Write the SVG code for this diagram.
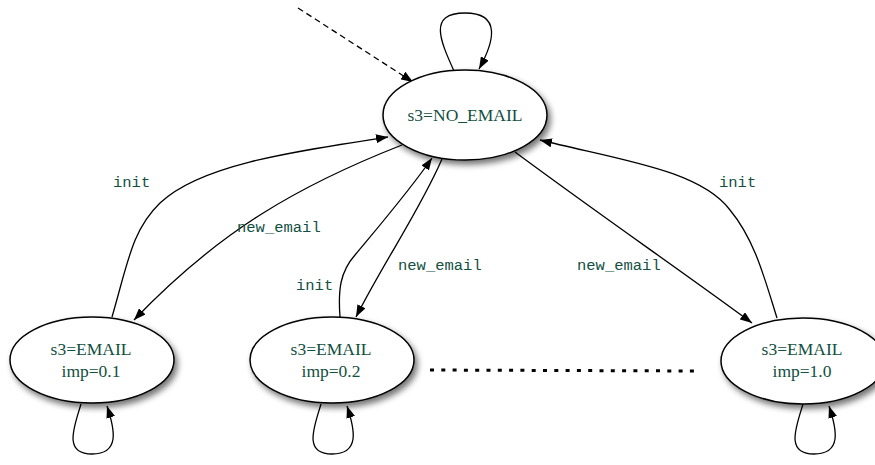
<svg xmlns="http://www.w3.org/2000/svg" width="875" height="465" viewBox="0 0 875 465">
<style>
.node ellipse{fill:#fff;stroke:#000;stroke-width:1.5;filter:url(#sh)}
.node text{font-family:"Liberation Serif","Times New Roman",serif;font-size:17.5px;fill:#12503f;text-anchor:middle}
.edge{fill:none;stroke:#000;stroke-width:1.3;marker-end:url(#ah)}
.lbl{font-family:"Liberation Mono","Courier New",monospace;font-size:15.5px;fill:#12503f}
</style>
<defs>
<filter id="sh" x="-20%" y="-20%" width="150%" height="160%">
<feGaussianBlur in="SourceAlpha" stdDeviation="3"/>
<feOffset dx="3" dy="4" result="b"/>
<feComponentTransfer><feFuncA type="linear" slope="0.55"/></feComponentTransfer>
<feMerge><feMergeNode/><feMergeNode in="SourceGraphic"/></feMerge>
</filter>
<marker id="ah" viewBox="0 0 12 9" refX="12" refY="4.5" markerWidth="12" markerHeight="9" markerUnits="userSpaceOnUse" orient="auto">
<path d="M0,0 L12,4.5 L0,9 z" fill="#000"/>
</marker>
</defs>
<g id="connectors">
<path class="edge" d="M298,8 L413,82" stroke-dasharray="6,4"/>
<path class="edge" d="M454,71 C440,40 428,13 465,13 C502,13 494,42 479,69"/>
<path class="edge" d="M112,317 C128,262 132,230 160,203 C200,165 290,152 388,137"/>
<path class="edge" d="M402,145 C300,185 220,230 134,320"/>
<path class="edge" d="M340,317 C338,290 340,272 355,255 C380,225 410,190 432,158"/>
<path class="edge" d="M442,159 C420,210 385,260 356,317"/>
<path class="edge" d="M515,152 C600,215 680,270 752,323"/>
<path class="edge" d="M777,318 C765,280 755,240 730,210 C700,170 620,160 540,140"/>
<path class="edge" d="M81,404 C75,425 62,454 92,454 C120,454 115,430 107,406"/>
<path class="edge" d="M321,404 C315,425 302,454 332,454 C360,454 355,430 347,406"/>
<path class="edge" d="M803,404 C797,425 784,454 814,454 C842,454 837,430 829,406"/>
<path d="M430,370 L700,371" fill="none" stroke="#000" stroke-width="3" stroke-dasharray="4,7.3"/>
<text class="lbl" x="113" y="187">init</text>
<text class="lbl" x="237" y="232">new_email</text>
<text class="lbl" x="296" y="290">init</text>
<text class="lbl" x="398" y="270">new_email</text>
<text class="lbl" x="577" y="270">new_email</text>
<text class="lbl" x="719" y="187">init</text>
</g>
<g id="n_noemail" class="node">
<ellipse cx="465" cy="115" rx="82" ry="45"/>
<text x="465" y="121">s3=NO_EMAIL</text>
</g>
<g id="n_imp01" class="node">
<ellipse cx="92" cy="360" rx="82" ry="43"/>
<text x="91" y="355">s3=EMAIL</text>
<text x="91" y="377">imp=0.1</text>
</g>
<g id="n_imp02" class="node">
<ellipse cx="332" cy="360" rx="82" ry="43"/>
<text x="331" y="355">s3=EMAIL</text>
<text x="331" y="377">imp=0.2</text>
</g>
<g id="n_imp10" class="node">
<ellipse cx="803" cy="361" rx="82" ry="43"/>
<text x="802" y="355">s3=EMAIL</text>
<text x="802" y="377">imp=1.0</text>
</g>
</svg>
